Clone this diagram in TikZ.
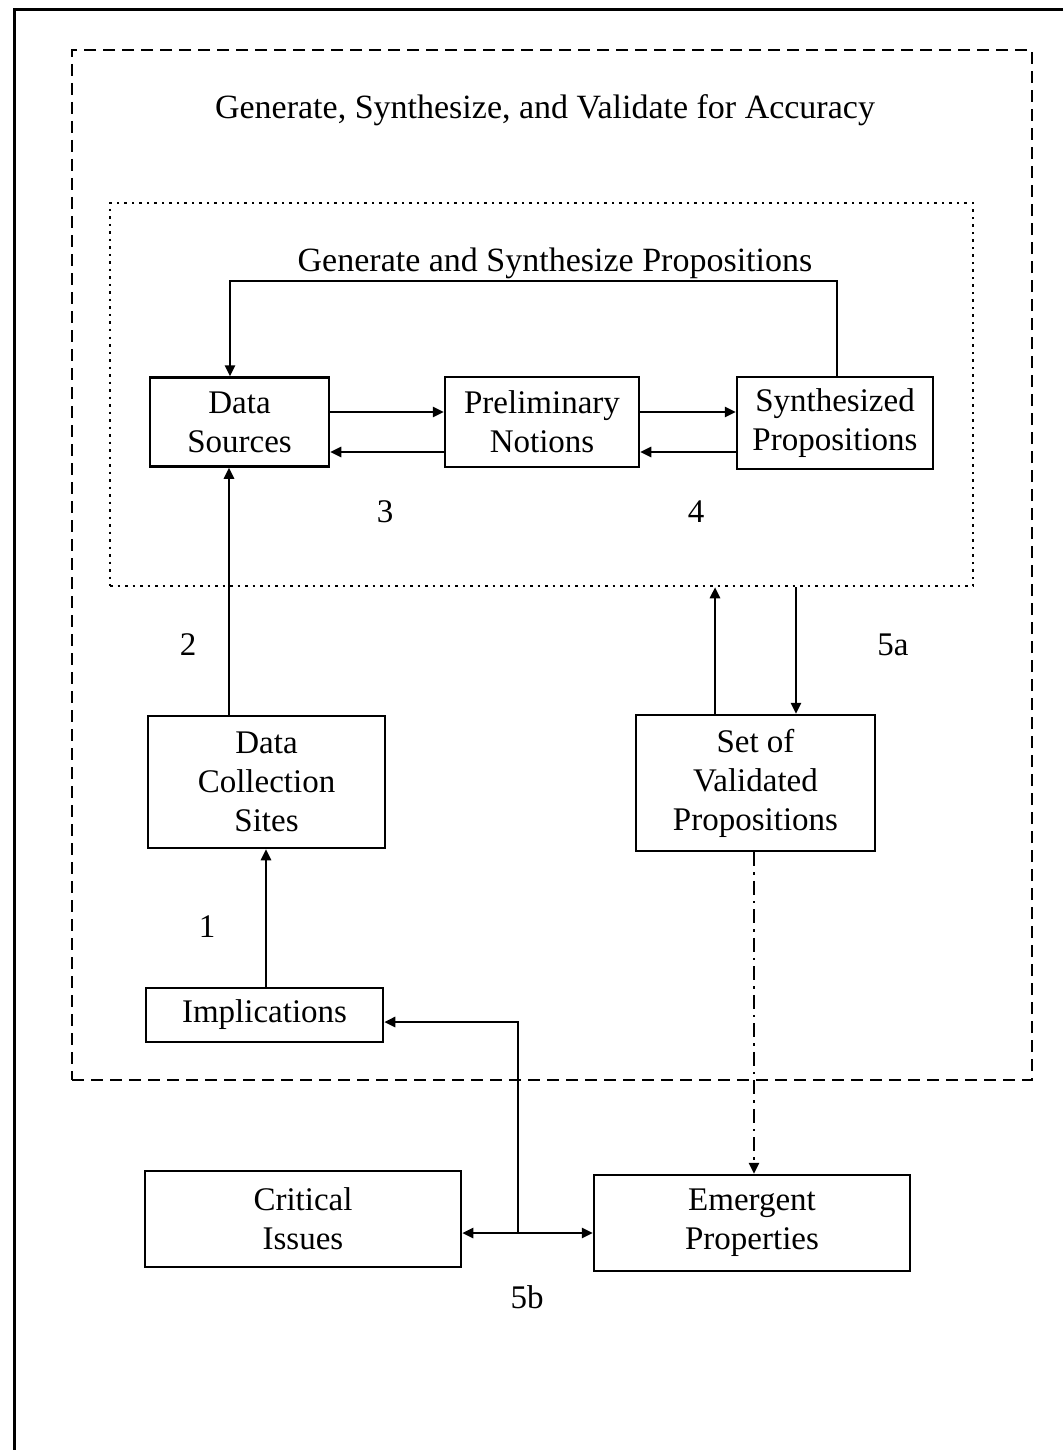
\documentclass[tikz,border=0pt]{standalone}
\usepackage{fontspec}
\setmainfont{Liberation Serif}
\usetikzlibrary{arrows.meta}
\tikzset{pbox/.style = {shape = rectangle,
                        color = black,
                        line width = 2.5pt,
                        inner sep = 0pt,
                        align = center,
                        font = \fontsize{33}{39}\selectfont,
                        draw},
         frame/.style = {shape = rectangle,
                         line width = 2.5pt,
                         inner sep = 0pt,
                         draw},
         lbl/.style = {font = \fontsize{33}{39}\selectfont},
         arr/.style = {line width = 2.5pt,
                       -{Triangle[length = 11pt, width = 10pt]}}}

\begin{document}
\begin{tikzpicture}[x = 1pt, y = -1pt]
		\useasboundingbox (0,0) rectangle (1063,1450);
		\draw[line width = 3pt] (1063,10) -- (14,10) -- (14,1450);
		% frames
		\node[frame, dash pattern = on 12pt off 7pt, minimum width = 960pt, minimum height = 1030pt] (outer) at (552,565) {};
		\node[frame, dash pattern = on 2.5pt off 5pt, minimum width = 863pt, minimum height = 383pt] (inner) at (541.5,394.5) {};
		\node[lbl, font = \fontsize{34}{39}\selectfont] (otitle) at (545,110) {Generate, Synthesize, and Validate for Accuracy};
		\node[lbl, font = \fontsize{34}{39}\selectfont] (ititle) at (555,263) {Generate and Synthesize Propositions};
		% boxes
		\node[pbox, minimum width = 179pt, minimum height = 89pt] (ds) at (239.5,422) {Data\\Sources};
		\node[pbox, minimum width = 194pt, minimum height = 90pt] (pn) at (542,422) {Preliminary\\Notions};
		\node[pbox, minimum width = 196pt, minimum height = 92pt] (sp) at (835,423) {Synthesized\\Propositions};
		\node[pbox, minimum width = 237pt, minimum height = 132pt] (dcs) at (266.5,782) {Data\\Collection\\Sites};
		\node[pbox, minimum width = 239pt, minimum height = 136pt] (svp) at (755.5,783) {Set of\\Validated\\Propositions};
		\node[pbox, minimum width = 237pt, minimum height = 54pt] (impl) at (264.5,1015) {Implications};
		\node[pbox, minimum width = 316pt, minimum height = 96pt] (ci) at (303,1219) {Critical\\Issues};
		\node[pbox, minimum width = 316pt, minimum height = 96pt] (ep) at (752,1223) {Emergent\\Properties};
		% numbers
		\node[lbl] (n3) at (385,512) {3};
		\node[lbl] (n4) at (696,512) {4};
		\node[lbl] (n2) at (188,645) {2};
		\node[lbl] (n5a) at (893,645) {5a};
		\node[lbl] (n1) at (207,927) {1};
		\node[lbl] (n5b) at (527,1297) {5b};
		% connectors
		\draw[arr] (ds.east |- 0,412) -- (pn.west |- 0,412);
		\draw[arr] (pn.west |- 0,452) -- (ds.east |- 0,452);
		\draw[arr] (pn.east |- 0,412) -- (sp.west |- 0,412);
		\draw[arr] (sp.west |- 0,452) -- (pn.east |- 0,452);
		\draw[arr] (sp.north -| 837,0) -- (837,281) -- (230,281) -- (ds.north -| 230,0);
		\draw[arr] (dcs.north -| 229,0) -- (ds.south -| 229,0);
		\draw[arr] (impl.north -| 266,0) -- (dcs.south -| 266,0);
		\draw[arr] (svp.north -| 715,0) -- (inner.south -| 715,0);
		\draw[arr] (inner.south -| 796,0) -- (svp.north -| 796,0);
		\draw[arr, dash pattern = on 14pt off 6pt on 2.5pt off 6pt] (svp.south -| 754,0) -- (ep.north -| 754,0);
		\coordinate (jn) at (518,1233);
		\draw[arr] (jn) -- (518,1022) -- (impl.east |- 0,1022);
		\draw[arr] (jn) -- (ci.east |- jn);
		\draw[arr] (jn) -- (ep.west |- jn);
	\end{tikzpicture}
\end{document}
